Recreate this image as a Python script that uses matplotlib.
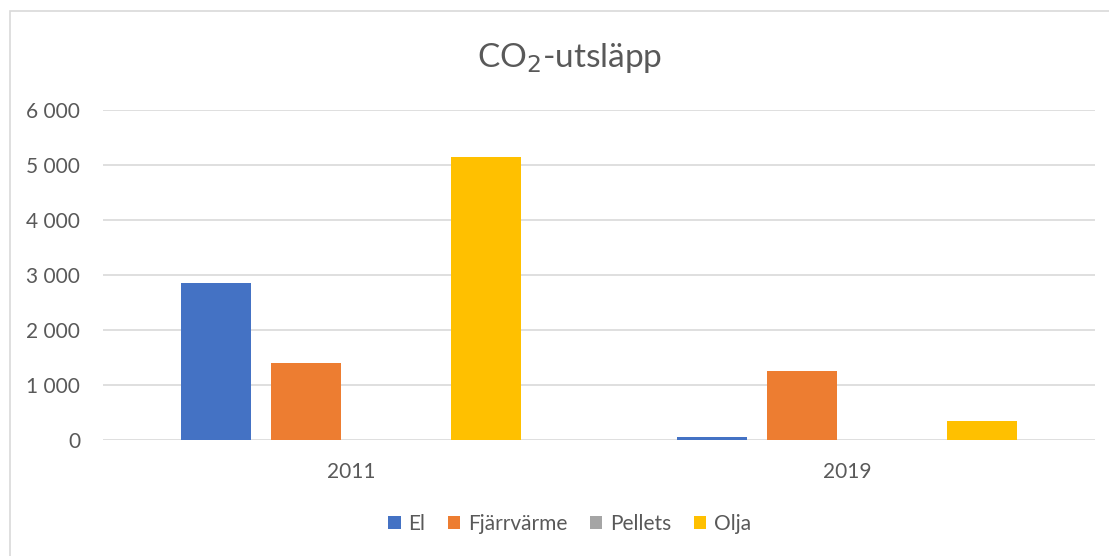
import matplotlib.pyplot as plt
import matplotlib.patches as patches
import numpy as np

plt.rcParams['font.family'] = ['Lato', 'DejaVu Sans']

years = ['2011', '2019']
series = ['El', 'Fjärrvärme', 'Pellets', 'Olja']
el = [2850, 60]
fjarrvarme = [1400, 1250]
pellets = [0, 0]
olja = [5150, 345]
colors = ['#4472C4', '#ED7D31', '#A5A5A5', '#FFC000']
yticks = [0, 1000, 2000, 3000, 4000, 5000, 6000]

fig = plt.figure(figsize=(11.09, 5.56), dpi=100)
ax = fig.add_axes([0.0929, 0.2086, 0.8945, 0.5936])

# chart frame like the excel border
fig.patches.append(patches.Rectangle((0.009, -0.02), 1.1, 1.0,
                                     transform=fig.transFigure, fill=False,
                                     edgecolor='#D9D9D9', linewidth=1.2))

x = np.arange(len(years))
width = 70 / 496
step = 90 / 496
for i, (name, vals) in enumerate(zip(series, [el, fjarrvarme, pellets, olja])):
    ax.bar(x + (i - 1.5) * step, vals, width, color=colors[i], label=name, zorder=3)

ax.set_xlim(-0.5, 1.5)
ax.set_ylim(0, 6000)
ax.set_yticks(yticks)
ax.set_yticklabels([f'{v:,}'.replace(',', ' ') for v in yticks])
ax.set_xticks(x)
ax.set_xticklabels(years)
ax.grid(axis='y', color='#D9D9D9', linewidth=1.2, zorder=0)
for s in ax.spines.values():
    s.set_visible(False)
ax.tick_params(length=0, labelsize=15, colors='#595959')
ax.tick_params(axis='y', pad=16.5)
ax.tick_params(axis='x', pad=16)

fig.text(0.5135, 0.895, 'CO$_2$-utsläpp', ha='center', va='center', fontsize=24, color='#595959')

leg = ax.legend(loc='center', bbox_to_anchor=(0.5135, 0.058), bbox_transform=fig.transFigure,
                ncol=4, frameon=False, fontsize=15, handlelength=0.6, handleheight=0.6,
                handletextpad=0.35, columnspacing=1.1)
for t in leg.get_texts():
    t.set_color('#595959')

fig.savefig('out.png', dpi=100)
